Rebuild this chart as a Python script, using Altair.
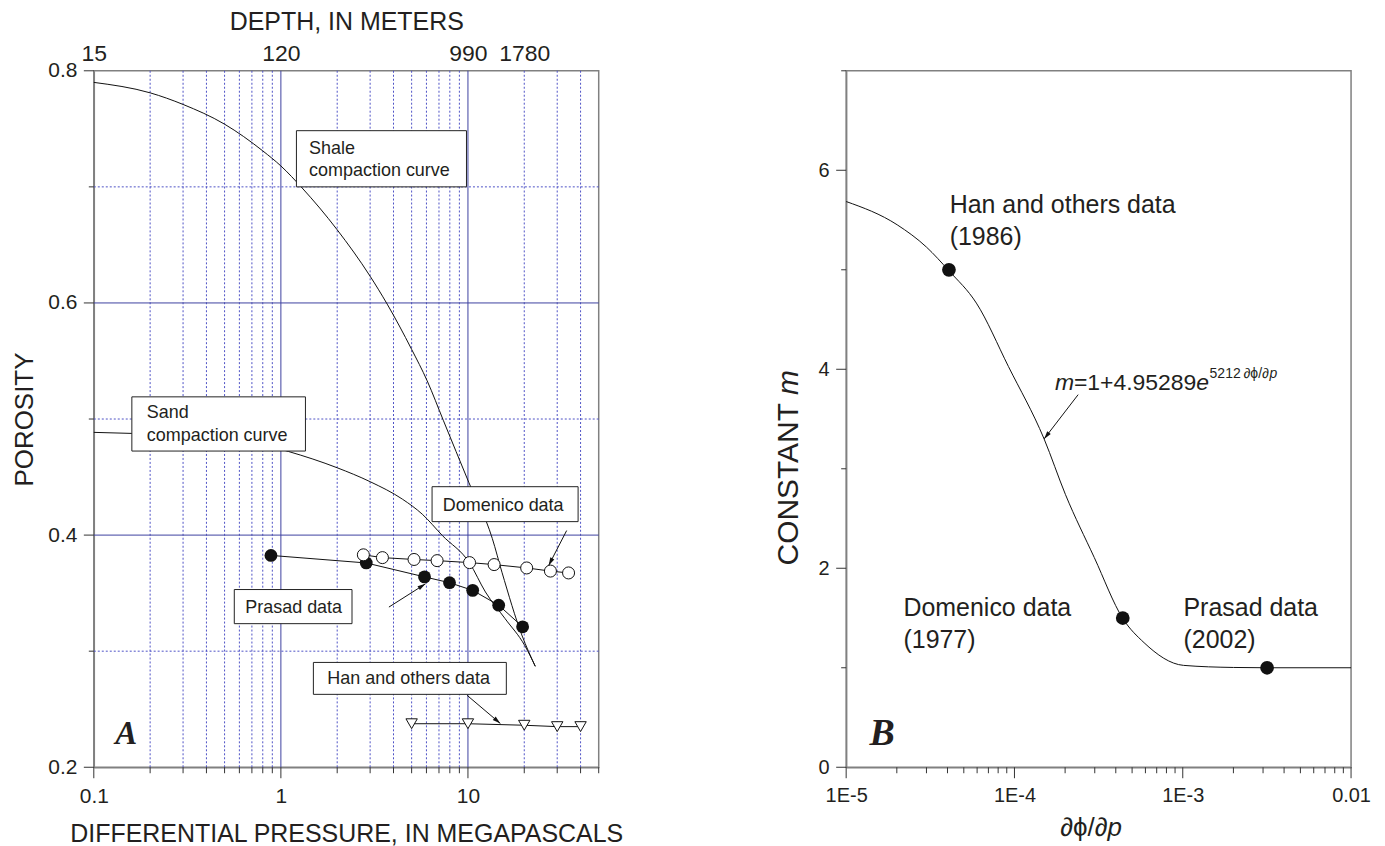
import math
import altair as alt
import pandas as pd

FONT = "Liberation Sans"
SERIF = "Liberation Serif"
TXT = "#231f20"
GRID_MAJOR = "#3d40a0"
GRID_MINOR = "#4e52c6"
FRAME = "#808080"
TICK = "#333333"
W, H = 506, 698

# ---------------- Panel A data ----------------
shale_p = [0.1, 0.2, 0.3, 0.5, 0.8, 1.0, 1.3, 2.0, 3.0, 3.7, 5.0, 6.05, 7.4, 10.1, 13.5, 15.2, 19.4, 22.9]
shale_phi = [0.790, 0.781, 0.771, 0.754, 0.731, 0.718, 0.699, 0.663, 0.623, 0.599, 0.560, 0.533, 0.4985, 0.4455, 0.397, 0.368, 0.314, 0.287]
sand_p = [0.1, 0.16, 0.3, 0.5, 0.8, 1.1, 2.0, 3.0, 4.46, 5.7, 7.3, 10.2, 12.4, 15.8, 20.1, 22.9]
sand_phi = [0.4885, 0.4876, 0.486, 0.483, 0.478, 0.472, 0.458, 0.446, 0.431, 0.418, 0.3996, 0.376, 0.351, 0.328, 0.305, 0.287]

prasad_p = [0.885, 2.86, 5.86, 7.97, 10.6, 14.6, 19.6]
prasad_phi = [0.3825, 0.376, 0.364, 0.359, 0.3524, 0.3396, 0.321]
domenico_p = [2.76, 3.49, 5.15, 6.84, 10.2, 13.8, 20.6, 27.6, 34.5]
domenico_phi = [0.383, 0.3806, 0.379, 0.378, 0.3763, 0.3746, 0.3717, 0.369, 0.3674]
han_p = [5, 10, 20, 30, 40]
han_phi = [0.2375, 0.2375, 0.2362, 0.2350, 0.2350]

xA_major_ticks = [0.1, 1, 10]
xA_minor_ticks = [0.2, 0.3, 0.4, 0.5, 0.6, 0.7, 0.8, 0.9, 2, 3, 4, 5, 6, 7, 8, 9, 20, 30, 40]
xA_major_grid = [1, 10]
yA_major_ticks = [0.2, 0.4, 0.6, 0.8]
yA_minor_ticks = [0.3, 0.5, 0.7]
yA_major_grid = [0.4, 0.6]
depth_at = [0.1, 1, 10, 20]
depth_labels = ["15", "120", "990", "1780"]

boxA_x1 = [1.211, 0.1597, 6.43, 0.5636, 1.492]
boxA_x2 = [9.82, 1.353, 38.8, 2.40, 16.04]
boxA_y1 = [0.700, 0.4724, 0.4116, 0.3237, 0.2628]
boxA_y2 = [0.7484, 0.5191, 0.4417, 0.3531, 0.2903]
labA_text = ["Shale", "compaction curve", "Sand", "compaction curve", "Domenico data", "Prasad data", "Han and others data"]
labA_p = [1.415, 1.415, 0.192, 0.192, 7.34, 0.645, 1.772]
labA_phi = [0.7286, 0.7091, 0.5005, 0.4813, 0.4211, 0.3328, 0.2714]
arrA_p0 = [33.7, 3.78, 9.89]
arrA_f0 = [0.4039, 0.338, 0.2620]
arrA_p1 = [27.0, 5.93, 14.9]
arrA_f1 = [0.3738, 0.358, 0.2377]

# ---------------- Panel B data ----------------
curve_g = [1e-5, 2.01e-5, 3.0e-5, 4.08e-5, 5.94e-5, 9.2e-5, 1.5e-4, 2.01e-4, 2.98e-4, 4.4e-4, 5.89e-4, 1.01e-3, 2.0e-3, 3.17e-3, 1e-2]
curve_m = [5.686, 5.452, 5.228, 4.99, 4.665, 4.029, 3.30, 2.74, 2.108, 1.496, 1.252, 1.024, 1.003, 1.0, 1.0]
pts_g = [4.08e-5, 4.4e-4, 3.17e-3]
pts_m = [5.0, 1.5, 1.0]
xB_major_ticks = [1e-5, 1e-4, 1e-3, 1e-2]
xB_minor_ticks = [float(f"{k}e{e}") for e in (-5, -4, -3) for k in range(2, 10)]
yB_major_ticks = [0, 2, 4, 6]
yB_minor_ticks = [1, 3, 5, 7]
labB_text = ["Han and others data", "(1986)", "Domenico data", "(1977)", "Prasad data", "(2002)"]
labB_g = [4.12e-5, 4.12e-5, 2.19e-5, 2.19e-5, 1.01e-3, 1.01e-3]
labB_m = [5.575, 5.25, 1.52, 1.20, 1.52, 1.20]
formula_g = 1.74e-4
formula_m = 3.795
arrB_g0, arrB_m0, arrB_g1, arrB_m1 = 2.39e-4, 3.745, 1.50e-4, 3.30

# ---------------- helpers ----------------
def pxA(p, f):
    return math.log10(p / 0.1) / math.log10(500) * W, (0.8 - f) / 0.6 * H

def pxB(g, m):
    return math.log10(g / 1e-5) / 3 * W, (7 - m) / 7 * H

def head_angle(a, b):
    dx, dy = b[0] - a[0], b[1] - a[1]
    return (math.degrees(math.atan2(dx, -dy)) + 360) % 360

ARROW = "M0,0L-0.5,1.8L0.5,1.8Z"

xA = alt.Scale(type="log", domain=[0.1, 50], nice=False)
yA = alt.Scale(domain=[0.2, 0.8], nice=False, zero=False)
xB = alt.Scale(type="log", domain=[1e-5, 0.01], nice=False)
yB = alt.Scale(domain=[0, 7], nice=False, zero=False)

axis_common = dict(labelFont=FONT, titleFont=FONT, labelColor=TXT, titleColor=TXT,
                   domainColor=FRAME, domainWidth=1.5, tickColor="transparent",
                   grid=False, labelFlush=False, labelOverlap=False, labelBound=False,
                   titleFontWeight="normal", labelFontSize=21, titleFontSize=25)

axA_bottom = alt.Axis(values=xA_major_ticks, title="DIFFERENTIAL PRESSURE, IN MEGAPASCALS",
                      labelExpr="datum.value == 0.1 ? '0.1' : datum.value == 1 ? '1' : '10'",
                      tickSize=11, labelPadding=7, titlePadding=15, **axis_common)
axA_top = alt.Axis(orient="top", values=depth_at, title="DEPTH, IN METERS",
                   labelExpr="datum.value == 0.1 ? '15' : datum.value == 1 ? '120' : datum.value == 10 ? '990' : '1780'",
                   ticks=False, domain=False, labelPadding=5, titlePadding=8,
                   **{**axis_common, "labelFontSize": 23})
axA_y = alt.Axis(values=yA_major_ticks, title="POROSITY", format=".1f",
                 tickSize=10, labelPadding=7, titlePadding=10, **{**axis_common, "titleFontSize": 26})

def xq(f, s, ax=None):
    return alt.X(f, scale=s, axis=ax)

def yq(f, s, ax=None):
    return alt.Y(f, scale=s, axis=ax)

# ---------------- Panel A layers ----------------
vminor = alt.Chart(pd.DataFrame({"p": xA_minor_ticks})).mark_rule(
    color=GRID_MINOR, strokeWidth=1, strokeDash=[2, 2]).encode(x=xq("p:Q", xA, axA_bottom))
vmajor = alt.Chart(pd.DataFrame({"p": xA_major_grid})).mark_rule(
    color=GRID_MAJOR, strokeWidth=1).encode(x=xq("p:Q", xA, axA_top))
hminor = alt.Chart(pd.DataFrame({"phi": yA_minor_ticks})).mark_rule(
    color=GRID_MINOR, strokeWidth=1, strokeDash=[2, 2]).encode(y=yq("phi:Q", yA, axA_y))
hmajor = alt.Chart(pd.DataFrame({"phi": yA_major_grid})).mark_rule(
    color=GRID_MAJOR, strokeWidth=1).encode(y=yq("phi:Q", yA))

tA_xmaj = alt.Chart(pd.DataFrame({"p": xA_major_ticks})).mark_rule(color=TICK, strokeWidth=1).encode(
    x=xq("p:Q", xA), y=alt.value(H), y2=alt.value(H + 11))
tA_xmin = alt.Chart(pd.DataFrame({"p": xA_minor_ticks + [50]})).mark_rule(color=TICK, strokeWidth=1).encode(
    x=xq("p:Q", xA), y=alt.value(H), y2=alt.value(H + 6))
tA_ymaj = alt.Chart(pd.DataFrame({"phi": yA_major_ticks})).mark_rule(color=TICK, strokeWidth=1).encode(
    y=yq("phi:Q", yA), x=alt.value(0), x2=alt.value(-10))
tA_ymin = alt.Chart(pd.DataFrame({"phi": yA_minor_ticks})).mark_rule(color=TICK, strokeWidth=1).encode(
    y=yq("phi:Q", yA), x=alt.value(0), x2=alt.value(-5))

curves_df = pd.concat([
    pd.DataFrame({"p": shale_p, "phi": shale_phi, "c": "shale"}),
    pd.DataFrame({"p": sand_p, "phi": sand_phi, "c": "sand"}),
])
curves = alt.Chart(curves_df).mark_line(color="#111111", strokeWidth=1, interpolate="monotone").encode(
    x=xq("p:Q", xA), y=yq("phi:Q", yA), detail="c:N")

boxes = alt.Chart(pd.DataFrame({"x1": boxA_x1, "x2": boxA_x2, "y1": boxA_y1, "y2": boxA_y2})).mark_rect(
    fill="white", stroke="#222222", strokeWidth=1).encode(
    x=xq("x1:Q", xA), x2="x2:Q", y=yq("y1:Q", yA), y2="y2:Q")

series_df = pd.concat([
    pd.DataFrame({"p": prasad_p, "phi": prasad_phi, "s": "prasad"}),
    pd.DataFrame({"p": domenico_p, "phi": domenico_phi, "s": "domenico"}),
    pd.DataFrame({"p": han_p, "phi": han_phi, "s": "han"}),
])
series_lines = alt.Chart(series_df).mark_line(color="#111111", strokeWidth=1).encode(
    x=xq("p:Q", xA), y=yq("phi:Q", yA), detail="s:N")

pr_pts = alt.Chart(pd.DataFrame({"p": prasad_p, "phi": prasad_phi})).mark_point(
    shape="circle", filled=True, color="#111111", size=165, opacity=1).encode(
    x=xq("p:Q", xA), y=yq("phi:Q", yA))
do_pts = alt.Chart(pd.DataFrame({"p": domenico_p, "phi": domenico_phi})).mark_point(
    shape="circle", filled=True, fill="white", stroke="#111111", strokeWidth=1, size=145, opacity=1).encode(
    x=xq("p:Q", xA), y=yq("phi:Q", yA))
han_pts = alt.Chart(pd.DataFrame({"p": han_p, "phi": han_phi})).mark_point(
    shape="triangle-down", filled=True, fill="white", stroke="#111111", strokeWidth=1, size=130, opacity=1).encode(
    x=xq("p:Q", xA), y=yq("phi:Q", yA))

labelsA = alt.Chart(pd.DataFrame({"p": labA_p, "phi": labA_phi, "t": labA_text})).mark_text(
    align="left", baseline="alphabetic", font=FONT, fontSize=18, color=TXT).encode(
    x=xq("p:Q", xA), y=yq("phi:Q", yA), text="t:N")

arr_rows = []
head_rows = []
for i in range(len(arrA_p0)):
    arr_rows += [{"id": i, "p": arrA_p0[i], "phi": arrA_f0[i]}, {"id": i, "p": arrA_p1[i], "phi": arrA_f1[i]}]
    head_rows.append({"p": arrA_p1[i], "phi": arrA_f1[i],
                      "ang": head_angle(pxA(arrA_p0[i], arrA_f0[i]), pxA(arrA_p1[i], arrA_f1[i]))})
arrowsA = alt.Chart(pd.DataFrame(arr_rows)).mark_line(color="#111111", strokeWidth=1).encode(
    x=xq("p:Q", xA), y=yq("phi:Q", yA), detail="id:N")
headsA = alt.Chart(pd.DataFrame(head_rows)).mark_point(
    shape=ARROW, filled=True, color="#111111", size=80, opacity=1).encode(
    x=xq("p:Q", xA), y=yq("phi:Q", yA), angle=alt.Angle("ang:Q", scale=None))

letterA = alt.Chart(pd.DataFrame({"p": [0.1303], "phi": [0.2199], "t": ["A"]})).mark_text(
    align="left", baseline="alphabetic", font=SERIF, fontSize=33, fontWeight="bold",
    fontStyle="italic", color=TXT).encode(x=xq("p:Q", xA), y=yq("phi:Q", yA), text="t:N")

panelA = alt.layer(vminor, vmajor, hminor, hmajor, tA_xmaj, tA_xmin, tA_ymaj, tA_ymin,
                   curves, boxes, series_lines, arrowsA, headsA, pr_pts, do_pts, han_pts,
                   labelsA, letterA).properties(width=W, height=H).resolve_axis(x="independent", y="independent")

# ---------------- Panel B layers ----------------
axB_x = alt.Axis(values=xB_major_ticks, title=None,
                 labelExpr="datum.value < 0.00005 ? '1E-5' : datum.value < 0.0005 ? '1E-4' : datum.value < 0.005 ? '1E-3' : '0.01'",
                 tickSize=11, labelPadding=7, **{**axis_common, "labelFontSize": 20})
axB_y = alt.Axis(values=yB_major_ticks, title=None, tickSize=10, labelPadding=7,
                 **{**axis_common, "labelFontSize": 20})

curveB = alt.Chart(pd.DataFrame({"g": curve_g, "m": curve_m})).mark_line(
    color="#111111", strokeWidth=1, interpolate="monotone").encode(
    x=xq("g:Q", xB, axB_x), y=yq("m:Q", yB, axB_y))
tB_xmaj = alt.Chart(pd.DataFrame({"g": xB_major_ticks})).mark_rule(color=TICK, strokeWidth=1).encode(
    x=xq("g:Q", xB), y=alt.value(H), y2=alt.value(H + 11))
tB_xmin = alt.Chart(pd.DataFrame({"g": xB_minor_ticks})).mark_rule(color=TICK, strokeWidth=1).encode(
    x=xq("g:Q", xB), y=alt.value(H), y2=alt.value(H + 6))
tB_ymaj = alt.Chart(pd.DataFrame({"m": yB_major_ticks})).mark_rule(color=TICK, strokeWidth=1).encode(
    y=yq("m:Q", yB), x=alt.value(0), x2=alt.value(-10))
tB_ymin = alt.Chart(pd.DataFrame({"m": yB_minor_ticks})).mark_rule(color=TICK, strokeWidth=1).encode(
    y=yq("m:Q", yB), x=alt.value(0), x2=alt.value(-5))

# axis titles of panel B (mixed upright / italic pieces)
ttl = pd.DataFrame({"k": [0]})
def title_piece(text, x, y, align, angle=0, italic=False, size=26, dx=0):
    kw = dict(text=text, align=align, baseline="alphabetic", font=FONT, fontSize=size,
              color=TXT, angle=angle, dx=dx)
    if italic:
        kw["fontStyle"] = "italic"
    return alt.Chart(ttl).mark_text(**kw).encode(x=alt.value(x), y=alt.value(y))

titlesB = [
    title_piece("∂ϕ/∂", 262, H + 69, "right"),
    title_piece("p", 262, H + 69, "left", italic=True),
    title_piece("CONSTANT", -48, 333, "right", angle=270, size=30),
    title_piece("m", -48, 333, "left", angle=270, italic=True, size=30, dx=8),
]

ptsB = alt.Chart(pd.DataFrame({"g": pts_g, "m": pts_m})).mark_point(
    shape="circle", filled=True, color="#111111", size=190, opacity=1).encode(
    x=xq("g:Q", xB), y=yq("m:Q", yB))
labelsB = alt.Chart(pd.DataFrame({"g": labB_g, "m": labB_m, "t": labB_text})).mark_text(
    align="left", baseline="alphabetic", font=FONT, fontSize=25, color=TXT).encode(
    x=xq("g:Q", xB), y=yq("m:Q", yB), text="t:N")

fdf = pd.DataFrame({"g": [formula_g], "m": [formula_m]})
def fpiece(text, size, dx, dy=0, italic=False):
    kw = dict(align="left", baseline="alphabetic", font=FONT, fontSize=size, color=TXT, dx=dx, dy=dy, text=text)
    if italic:
        kw["fontStyle"] = "italic"
    return alt.Chart(fdf).mark_text(**kw).encode(x=xq("g:Q", xB), y=yq("m:Q", yB))

formula = [
    fpiece("m", 23, 0, italic=True),
    fpiece("=1+4.95289", 23, 19),
    fpiece("e", 23, 141.5, italic=True),
    fpiece("5212\u2009∂ϕ/∂", 14, 155, -12),
    fpiece("p", 14, 215, -12, italic=True),
]

arrB = alt.Chart(pd.DataFrame({"g": [arrB_g0, arrB_g1], "m": [arrB_m0, arrB_m1]})).mark_line(
    color="#111111", strokeWidth=1).encode(x=xq("g:Q", xB), y=yq("m:Q", yB))
headB = alt.Chart(pd.DataFrame({"g": [arrB_g1], "m": [arrB_m1],
                                "ang": [head_angle(pxB(arrB_g0, arrB_m0), pxB(arrB_g1, arrB_m1))]})).mark_point(
    shape=ARROW, filled=True, color="#111111", size=80, opacity=1).encode(
    x=xq("g:Q", xB), y=yq("m:Q", yB), angle=alt.Angle("ang:Q", scale=None))

letterB = alt.Chart(pd.DataFrame({"g": [1.375e-5], "m": [0.224], "t": ["B"]})).mark_text(
    align="left", baseline="alphabetic", font=SERIF, fontSize=38, fontWeight="bold",
    fontStyle="italic", color=TXT).encode(x=xq("g:Q", xB), y=yq("m:Q", yB), text="t:N")

panelB = alt.layer(curveB, tB_xmaj, tB_xmin, tB_ymaj, tB_ymin, *titlesB, ptsB, labelsB, *formula,
                   arrB, headB, letterB).properties(width=W, height=H).resolve_axis(x="independent", y="independent")

chart = alt.hconcat(panelA, panelB, spacing=149).properties(
    padding={"left": 3, "top": 0, "right": 5, "bottom": 0}
).configure(font=FONT).configure_view(stroke=FRAME, strokeWidth=1.5)

chart.save("out.html", embed_options={"renderer": "svg", "actions": False})
